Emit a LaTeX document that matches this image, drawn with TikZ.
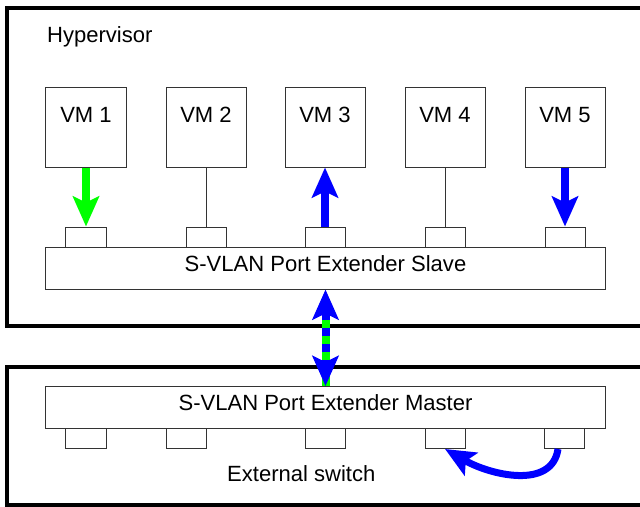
\documentclass[tikz,border=0pt]{standalone}
\usepackage{fontspec}
\setmainfont{Liberation Sans}
\usetikzlibrary{arrows.meta, calc, positioning}
\usepackage{xcolor}

\tikzset{flowtip/.tip={Stealth[length=0.9cm, width=0.78cm, inset=0.18cm]}}

\begin{document}
\begin{tikzpicture}[line cap=butt,line join=miter,x=0.03cm,y=-0.03cm,
  every node/.style={font=\fontsize{18.8}{22}\selectfont},
  thin line/.style={draw=black!80, line width=0.03cm},
  vmbox/.style={thin line, rectangle, inner sep=0pt, minimum width=2.4cm, text height=1.02cm, text depth=1.35cm},
  bar/.style={thin line, rectangle, inner sep=0pt, minimum width=16.77cm, text height=0.72cm, text depth=0.54cm},
  port/.style={thin line, rectangle, inner sep=0pt, minimum width=1.2cm, minimum height=0.6cm},
  caption/.style={anchor=base west, inner sep=0pt},
  frame/.style={line width=0.12cm},
  flow/.style={line width=0.24cm, -flowtip}]
\useasboundingbox (0,0) rectangle (640,507);

% Frames
\draw [frame] (640,8) -- (7,8) -- (7,326) -- (640,326);
\draw [frame] (640,367) -- (7,367) -- (7,505) -- (640,505);
\node [caption] (hyper) at (47,43) {Hypervisor};
\node [caption] (extsw) at (227,481) {External switch};

% VMs and slave ports
\foreach \i/\x in {1/86,2/206,3/325,4/445,5/565}
{
  \node [vmbox] (vm\i) at (\x,127.5) {VM \i};
  \node [port] (sp\i) at (\x,237) {};
}
\node [bar] (slave) at (325.5,268) {S-VLAN Port Extender Slave};

% Master and its ports
\node [bar] (master) at (325.5,407.5) {S-VLAN Port Extender Master};
\foreach \i/\x in {1/86,2/186,3/325,4/445,5/564}
\node [port] (mp\i) at (\x,438.5) {};

% Traffic
\draw [flow, green] (vm1.south) -- (sp1.north);
\draw [thin line] (vm2.south) -- (sp2.north);
\draw [flow, blue] (sp3.north) -- (vm3.south);
\draw [thin line] (vm4.south) -- (sp4.north);
\draw [flow, blue] (vm5.south) -- (sp5.north);

% Trunk between slave and master
\draw [green, line width=0.24cm, shorten <=0.8cm] (slave.south) -- (master.north);
\draw [blue, line width=0.24cm, dash pattern=on 0.24cm off 0.24cm, flowtip-flowtip] (slave.south) -- (master.north);

% Hairpin in the switch
\draw [blue, line width=0.21cm, -flowtip] ($(mp5.south)+(-6,0)$) .. controls (552,490) and (490,475) .. (mp4.south);
\end{tikzpicture}
\end{document}
